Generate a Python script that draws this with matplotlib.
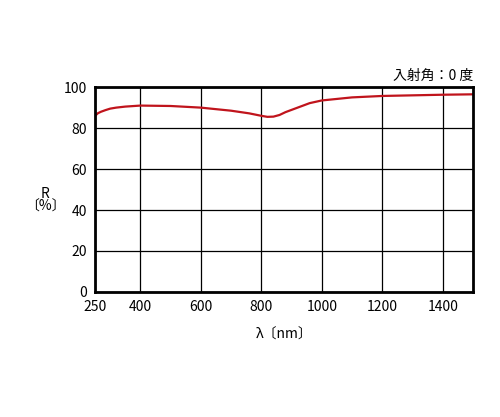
import matplotlib
matplotlib.use("Agg")
import matplotlib.pyplot as plt

plt.rcParams['font.family'] = ['Noto Sans CJK JP', 'DejaVu Sans']

# wavelength (nm) and reflectance (%)
wavelength = [250, 260, 270, 285, 300, 320, 350, 400, 500, 600, 700, 760, 800, 820,
              840, 860, 880, 920, 960, 1000, 1100, 1200, 1300, 1400, 1500]
reflect = [86.0, 87.3, 88.0, 88.8, 89.5, 90.0, 90.5, 91.0, 90.8, 90.0, 88.5, 87.2,
           86.0, 85.5, 85.6, 86.4, 87.8, 90.0, 92.2, 93.5, 95.0, 95.7, 96.0, 96.3, 96.5]
xticks = [250, 400, 600, 800, 1000, 1200, 1400]
yticks = [0, 20, 40, 60, 80, 100]

fig = plt.figure(figsize=(5, 4.17), dpi=100)
ax = fig.add_axes([0.19, 0.30, 0.756, 0.491])
ax.plot(wavelength, reflect, color="#c0141c", lw=1.6)
ax.set_xlim(250, 1500)
ax.set_ylim(0, 100)
ax.set_xticks(xticks)
ax.set_yticks(yticks)
ax.grid(True, color="black", lw=0.9)
for s in ax.spines.values():
    s.set_linewidth(2)
ax.tick_params(length=0, labelsize=10, pad=6)
ax.text(1.0, 1.02, "入射角：0 度", transform=ax.transAxes, ha="right", va="bottom", fontsize=10)
ax.set_xlabel("λ〔nm〕", fontsize=10, labelpad=10)
fig.text(0.09, 0.52, "R\n〔%〕", ha="center", va="center", fontsize=10, linespacing=0.9)
fig.savefig("out.png")
